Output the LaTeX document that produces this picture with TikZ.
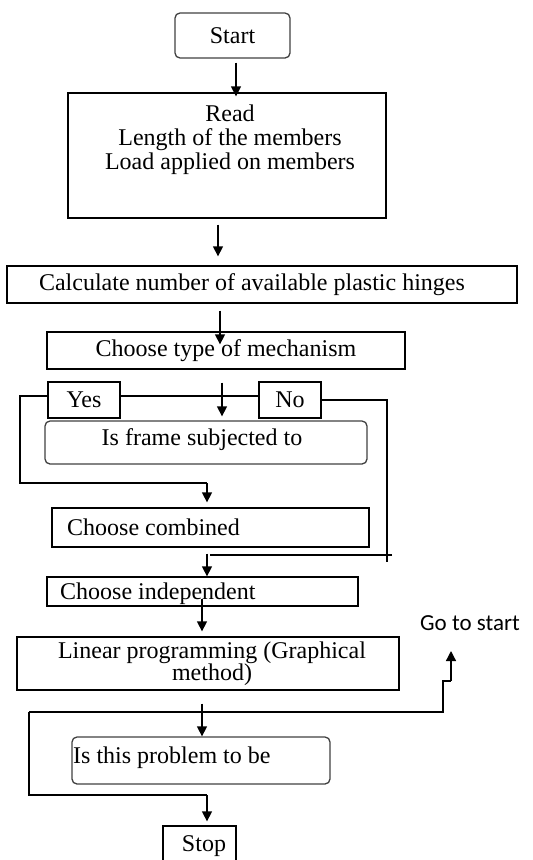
\documentclass[tikz,border=0pt]{standalone}
\usepackage{fontspec}
\setmainfont{Liberation Serif}
\newfontfamily\calib{Carlito}
\usetikzlibrary{arrows.meta,calc}
\begin{document}
\begin{tikzpicture}[x=1pt,y=-1pt,
  font=\fontsize{24}{24}\selectfont,
  box/.style={draw=black,line width=1.3pt,inner sep=0pt,minimum width=#1},
  rbox/.style={box=#1,rounded corners=5pt,draw=black!75},
  arr/.style={line width=1.3pt,-{Triangle[width=10pt,length=10pt]}},
  ln/.style={line width=1.3pt}]
\useasboundingbox (0,0) rectangle (533,860);
\clip (0,0) rectangle (533,860);
% boxes
\node[rbox=115pt,minimum height=45pt] (start) at (232.5,35.5) {Start};
\node[box=318pt,minimum height=125pt] (read) at (227,155.5) {};
\node[align=center,inner sep=0pt] (readtxt) at (230,140) {Read\\Length of the members\\Load applied on members};
\node[box=510pt,minimum height=37pt] (calc) at (262,284.5) {\hspace*{-20pt}Calculate number of available plastic hinges};
\node[box=358pt,minimum height=37pt] (type) at (226,350.5) {Choose type of mechanism};
\node[box=72pt,minimum height=36pt] (yes) at (84,400) {Yes};
\node[box=62pt,minimum height=36pt] (no) at (290,400) {No};
\node[rbox=322pt,minimum height=43pt] (frame) at (206,442.5) {};
\node[inner sep=0pt] (frametxt) at (202,440) {Is frame subjected to};
\node[box=317pt,minimum height=39pt] (comb) at (210.5,527.5) {};
\node[inner sep=0pt,anchor=west] (combtxt) at (67,527) {Choose combined};
\node[box=311pt,minimum height=29pt] (indep) at (202.5,591.5) {};
\node[inner sep=0pt,anchor=west] (indeptxt) at (60,594) {Choose independent};
\node[box=382pt,minimum height=53pt] (lin) at (208,663.5) {};
\node[align=center,inner sep=0pt,font=\fontsize{24}{22}\selectfont] (lintxt) at (212,664) {Linear programming (Graphical\\method)};
\node[rbox=258pt,minimum height=47pt] (prob) at (201,760.5) {};
\node[inner sep=0pt,anchor=west] (probtxt) at (73,758) {Is this problem to be};
\node[box=73pt,minimum height=50pt] (stop) at (199.5,851) {};
\node[inner sep=0pt] (stoptxt) at (204,846) {Stop};
\node[inner sep=0pt,font=\calib\fontsize{23}{23}\selectfont] (goto) at (470,623) {Go to start};
% coordinates
\coordinate (l1) at (20,396);
\coordinate (l2) at (20,483);
\coordinate (r1) at (387,400);
\coordinate (r2) at (387,562);
\coordinate (m1) at (392,555);
\coordinate (g1) at (29,712);
\coordinate (g2) at (443,712);
\coordinate (g3) at (443,681);
\coordinate (g4) at (451,681);
\coordinate (g5) at (451,651);
\coordinate (s1) at (29,795);
% connectors
\draw[arr] ($(start.south)+(3.5,4)$) -- ($(read.north)+(9,4)$);
\draw[arr] ($(read.south)+(-9,6)$) -- ($(calc.north)+(-44,-9)$);
\draw[arr] ($(calc.south)+(-42,7)$) -- ($(type.north)+(-6,13)$);
\draw[arr] ($(type.south)+(-4,13)$) -- ($(frame.north)+(16,-4)$);
\draw[ln] (yes.west |- 0,396) -- (l1) -- (l2) -- (l2 -| 207,0) coordinate (l3);
\draw[arr] (l3) -- ($(comb.north)+(-3.5,-5)$);
\draw[ln] (yes.east |- 0,396) -- (no.west |- 0,396);
\draw[ln] (no.east) -- (r1) -- (r2);
\draw[ln] (m1) -- (210,555);
\draw[arr] ($(comb.south)+(-3.5,6)$) -- (indep.north -| 207,0);
\draw[arr] ($(indep.south)+(-0.5,-8)$) -- ($(lin.north)+(-6,-5)$);
\draw[arr] ($(lin.south)+(-6,13)$) -- (prob.north -| 202,0);
\draw[ln] (g1) -- (g2) -- (g3) -- (g4);
\draw[arr] (g4) -- (g5);
\draw[ln] (g1) -- (s1) -- (s1 -| 207,0) coordinate (s2);
\draw[arr] (s2) -- ($(stop.north)+(7.5,-4)$);
\end{tikzpicture}
\end{document}
